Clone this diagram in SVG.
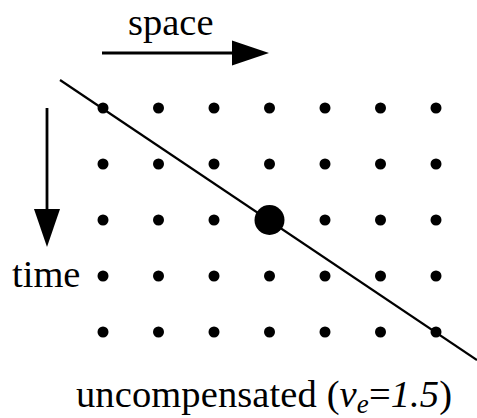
<svg xmlns="http://www.w3.org/2000/svg" width="477" height="418" viewBox="0 0 477 418">
<style>
text{font-family:"Liberation Serif","Times New Roman",serif;font-size:38.5px;fill:#000}
.d{fill:#000}
.ax{stroke:#000;stroke-width:2.8;fill:none}
</style>
<rect width="477" height="418" fill="#fff"/>
<g id="connectors">
<line class="ax" x1="102" y1="53" x2="234" y2="53"/>
<polygon points="232,40.5 269,53 232,65.5" fill="#000"/>
<line class="ax" x1="47" y1="108" x2="47" y2="212"/>
<polygon points="34,209 60,209 47,247" fill="#000"/>
<line x1="60" y1="80" x2="477" y2="360" stroke="#000" stroke-width="2.2"/>
</g>
<g id="dots">
<g id="row1"><circle class="d" cx="103" cy="108" r="5.5"/><circle class="d" cx="158.5" cy="108" r="5.5"/><circle class="d" cx="214" cy="108" r="5.5"/><circle class="d" cx="269.5" cy="108" r="5.5"/><circle class="d" cx="325" cy="108" r="5.5"/><circle class="d" cx="380.5" cy="108" r="5.5"/><circle class="d" cx="436" cy="108" r="5.5"/></g>
<g id="row2"><circle class="d" cx="103" cy="164" r="5.5"/><circle class="d" cx="158.5" cy="164" r="5.5"/><circle class="d" cx="214" cy="164" r="5.5"/><circle class="d" cx="269.5" cy="164" r="5.5"/><circle class="d" cx="325" cy="164" r="5.5"/><circle class="d" cx="380.5" cy="164" r="5.5"/><circle class="d" cx="436" cy="164" r="5.5"/></g>
<g id="row3"><circle class="d" cx="103" cy="220" r="5.5"/><circle class="d" cx="158.5" cy="220" r="5.5"/><circle class="d" cx="214" cy="220" r="5.5"/><circle class="d" cx="325" cy="220" r="5.5"/><circle class="d" cx="380.5" cy="220" r="5.5"/><circle class="d" cx="436" cy="220" r="5.5"/></g>
<g id="row4"><circle class="d" cx="103" cy="276" r="5.5"/><circle class="d" cx="158.5" cy="276" r="5.5"/><circle class="d" cx="214" cy="276" r="5.5"/><circle class="d" cx="269.5" cy="276" r="5.5"/><circle class="d" cx="325" cy="276" r="5.5"/><circle class="d" cx="380.5" cy="276" r="5.5"/><circle class="d" cx="436" cy="276" r="5.5"/></g>
<g id="row5"><circle class="d" cx="103" cy="332" r="5.5"/><circle class="d" cx="158.5" cy="332" r="5.5"/><circle class="d" cx="214" cy="332" r="5.5"/><circle class="d" cx="269.5" cy="332" r="5.5"/><circle class="d" cx="325" cy="332" r="5.5"/><circle class="d" cx="380.5" cy="332" r="5.5"/><circle class="d" cx="436" cy="332" r="5.5"/></g>
</g>
<g id="bigdot"><circle class="d" cx="269.5" cy="220" r="15"/></g>
<g id="labels">
<text x="128" y="35">space</text>
<text x="12" y="287">time</text>
<text x="76" y="407" textLength="376" lengthAdjust="spacing">uncompensated (<tspan font-style="italic">v</tspan><tspan font-style="italic" font-size="27" dy="6">e</tspan><tspan dy="-6">=</tspan><tspan font-style="italic">1.5</tspan>)</text>
</g>
</svg>
